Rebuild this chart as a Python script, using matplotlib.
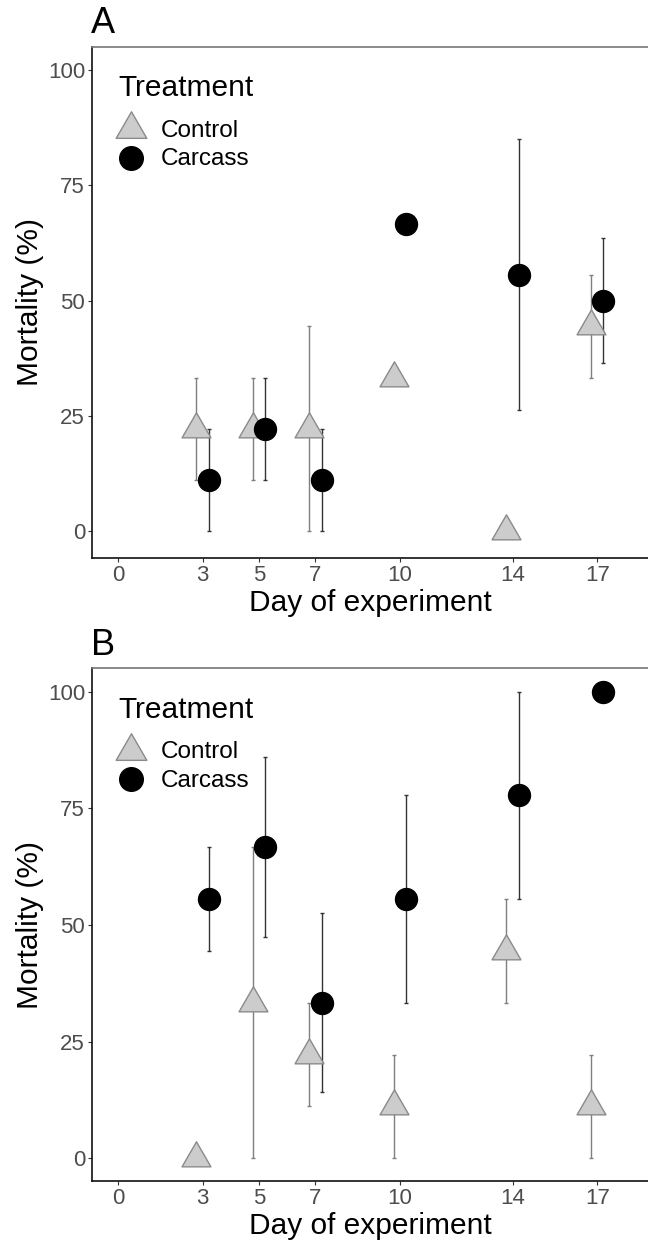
import matplotlib
matplotlib.use("Agg")
import matplotlib.pyplot as plt
import numpy as np
from matplotlib.path import Path

plt.rcParams['font.family'] = ['Liberation Sans', 'DejaVu Sans']

days = [3, 5, 7, 10, 14, 17]
tick_days = [0, 3, 5, 7, 10, 14, 17]
y_ticks = [0, 25, 50, 75, 100]
legend_labels = ['Control', 'Carcass']
legend_title = 'Treatment'

# Panel A
a_ctrl = [22.2, 22.2, 22.2, 33.3, 0.0, 44.4]
a_ctrl_lo = [11.1, 11.1, 0.0, 33.3, 0.0, 33.3]
a_ctrl_hi = [33.3, 33.3, 44.4, 33.3, 0.0, 55.6]
a_carc = [11.1, 22.2, 11.1, 66.7, 55.6, 50.0]
a_carc_lo = [0.0, 11.1, 0.0, 66.7, 26.2, 36.4]
a_carc_hi = [22.2, 33.3, 22.2, 66.7, 85.0, 63.6]

# Panel B
b_ctrl = [0.0, 33.3, 22.2, 11.1, 44.4, 11.1]
b_ctrl_lo = [0.0, 0.0, 11.1, 0.0, 33.3, 0.0]
b_ctrl_hi = [0.0, 66.7, 33.3, 22.2, 55.6, 22.2]
b_carc = [55.6, 66.7, 33.3, 55.6, 77.8, 100.0]
b_carc_lo = [44.4, 47.5, 14.1, 33.3, 55.6, 100.0]
b_carc_hi = [66.7, 85.9, 52.6, 77.8, 100.0, 100.0]

W, H = 648, 1245
fig = plt.figure(figsize=(W/100, H/100), dpi=100)

tri = Path([(-1, -0.57735), (1, -0.57735), (0, 1.1547), (-1, -0.57735)],
           [Path.MOVETO, Path.LINETO, Path.LINETO, Path.CLOSEPOLY])

TRI_FC = '#cccccc'
TRI_EC = '#8a8a8a'
CTRL_ERR = '#7f7f7f'
CARC_ERR = '#333333'
DODGE = 0.22
TRI_MS = 24
CIR_MS = 15.8
AX_LEFT = 92
AX_W = W - AX_LEFT


def panel(top_px, h_px, label, ctrl, clo, chi, carc, klo, khi, ylim):
    rect = [AX_LEFT/W, 1 - (top_px + h_px)/H, AX_W/W, h_px/H]
    ax = fig.add_axes(rect)
    x = np.array(days, dtype=float)
    xc = x - DODGE
    xk = x + DODGE
    ctrl = np.array(ctrl); clo = np.array(clo); chi = np.array(chi)
    carc = np.array(carc); klo = np.array(klo); khi = np.array(khi)
    mask_c = (chi - clo) > 0
    mask_k = (khi - klo) > 0
    ax.errorbar(xc[mask_c], ctrl[mask_c],
                yerr=[ctrl[mask_c] - clo[mask_c], chi[mask_c] - ctrl[mask_c]],
                fmt='none', ecolor=CTRL_ERR, elinewidth=1.0, capsize=1.5,
                capthick=1.0, zorder=2)
    ax.errorbar(xk[mask_k], carc[mask_k],
                yerr=[carc[mask_k] - klo[mask_k], khi[mask_k] - carc[mask_k]],
                fmt='none', ecolor=CARC_ERR, elinewidth=1.0, capsize=1.5,
                capthick=1.0, zorder=2)
    ax.plot(xc, ctrl, linestyle='none', marker=tri, markersize=TRI_MS,
            markerfacecolor=TRI_FC, markeredgecolor=TRI_EC, markeredgewidth=1.0,
            zorder=3)
    ax.plot(xk, carc, linestyle='none', marker='o', markersize=CIR_MS,
            markerfacecolor='black', markeredgecolor='black', zorder=4)
    ax.set_xlim(-0.92, 18.8)
    ax.set_ylim(*ylim)
    ax.set_xticks(tick_days)
    ax.set_xticklabels([str(d) for d in tick_days])
    ax.set_yticks(y_ticks)
    ax.set_yticklabels([str(v) for v in y_ticks])
    ax.tick_params(axis='both', which='major', labelsize=16, labelcolor='#4d4d4d',
                   color='#333333', length=3, width=0.8, pad=2)
    ax.spines['right'].set_visible(False)
    ax.spines['top'].set_color('#777777')
    ax.spines['top'].set_linewidth(1.2)
    ax.spines['left'].set_color('#111111')
    ax.spines['left'].set_linewidth(1.2)
    ax.spines['bottom'].set_color('#111111')
    ax.spines['bottom'].set_linewidth(1.2)
    ax.set_xlabel('Day of experiment', fontsize=21.5, labelpad=2)
    ax.set_ylabel('Mortality (%)', fontsize=21.5, labelpad=3)

    def fx(dx):
        return dx / AX_W

    def fy(dy):
        return 1 - dy / h_px

    ax.text(fx(-1), fy(-13.7), label, transform=ax.transAxes, fontsize=26,
            ha='left', va='baseline')
    # legend (drawn in axes coordinates)
    ax.text(fx(26), fy(49.3), legend_title, transform=ax.transAxes,
            fontsize=21.5, ha='left', va='baseline')
    ax.plot([fx(39)], [fy(82.3)], transform=ax.transAxes, linestyle='none',
            marker=tri, markersize=TRI_MS + 1.5, markerfacecolor=TRI_FC,
            markeredgecolor=TRI_EC, markeredgewidth=1.0, clip_on=False)
    ax.plot([fx(39)], [fy(110.8)], transform=ax.transAxes, linestyle='none',
            marker='o', markersize=CIR_MS + 1.2, markerfacecolor='black',
            markeredgecolor='black', clip_on=False)
    ax.text(fx(69), fy(90), legend_labels[0], transform=ax.transAxes,
            fontsize=17.5, ha='left', va='baseline')
    ax.text(fx(69), fy(118.3), legend_labels[1], transform=ax.transAxes,
            fontsize=17.5, ha='left', va='baseline')
    return ax


axA = panel(46.7, 511.6, 'A', a_ctrl, a_ctrl_lo, a_ctrl_hi,
            a_carc, a_carc_lo, a_carc_hi, (-5.85, 105.05))
axB = panel(668.3, 512.7, 'B', b_ctrl, b_ctrl_lo, b_ctrl_hi,
            b_carc, b_carc_lo, b_carc_hi, (-4.9, 105.0))

fig.savefig('out.png', dpi=100)
